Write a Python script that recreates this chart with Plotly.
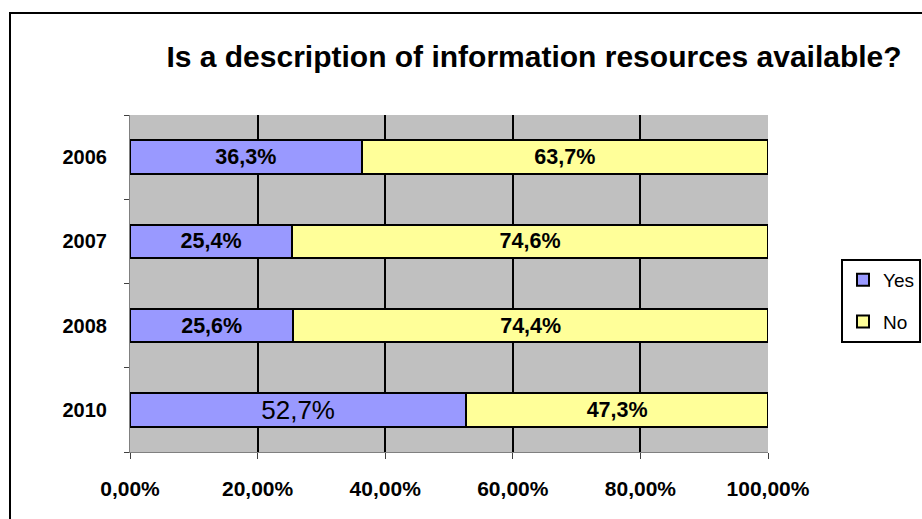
import plotly.graph_objects as go

years = ["2006", "2007", "2008", "2010"]
yes_vals = [36.3, 25.4, 25.6, 52.7]
no_vals = [63.7, 74.6, 74.4, 47.3]
x_ticks = [0, 0.2, 0.4, 0.6, 0.8, 1.0]

FONT = "Arial, 'Liberation Sans', sans-serif"

def fmt(v):
    return f"{v:.1f}".replace(".", ",") + "%"

yes_text = [fmt(v) if y == "2010" else f"<b>{fmt(v)}</b>" for v, y in zip(yes_vals, years)]
yes_sizes = [26 if y == "2010" else 21.5 for y in years]
no_text = [f"<b>{fmt(v)}</b>" for v in no_vals]

fig = go.Figure()
fig.add_trace(go.Bar(
    y=years, x=[v / 100 for v in yes_vals], orientation="h", name="Yes",
    legendgroup="yes",
    marker=dict(color="#9999FF", line=dict(color="black", width=2)),
    text=yes_text, textposition="inside", insidetextanchor="middle",
    textfont=dict(family=FONT, size=yes_sizes, color="black"),
    constraintext="none", hoverinfo="skip",
))
fig.add_trace(go.Bar(
    y=years, x=[v / 100 for v in no_vals], orientation="h", name="No",
    legendgroup="no",
    marker=dict(color="#FFFF99", line=dict(color="black", width=2)),
    text=no_text, textposition="inside", insidetextanchor="middle",
    textfont=dict(family=FONT, size=21.5, color="black"),
    constraintext="none", hoverinfo="skip",
))

L, R, T, B = 130, 154, 115, 67
W, H = 922, 519
pw, ph = W - L - R, H - T - B

def px_x(p):
    return (p - L) / pw

def px_y(p):
    return (H - B - p) / ph

fig.update_layout(
    width=W, height=H,
    margin=dict(l=L, r=R, t=T, b=B, autoexpand=False),
    paper_bgcolor="white", plot_bgcolor="#C0C0C0",
    barmode="stack", bargap=0.6,
    separators=", ",
    font=dict(family=FONT, color="black"),
    title=dict(text="<b>Is a description of information resources available?</b>",
               x=534 / W, xanchor="center", y=1 - 56 / H, yanchor="middle",
               font=dict(size=30, family=FONT, color="black")),
    legend=dict(x=px_x(841), y=px_y(259), xanchor="left", yanchor="top",
                bordercolor="black", borderwidth=2, bgcolor="white",
                traceorder="grouped", tracegroupgap=14,
                font=dict(size=19, family=FONT, color="black")),
    xaxis=dict(range=[0, 1], tickvals=x_ticks, tickformat=".2%",
               showgrid=False,
               minor=dict(tickvals=x_ticks[1:-1], showgrid=True, gridcolor="black",
                          gridwidth=2, ticks=""),
               showline=True, linecolor="#808080", linewidth=1,
               mirror=False,
               ticks="outside", ticklen=6, tickcolor="#404040",
               ticklabelstandoff=12, zeroline=False,
               tickfont=dict(size=21, family=FONT, color="black", weight="bold")),
    yaxis=dict(type="category", categoryorder="array", categoryarray=years[::-1],
               showline=True, linecolor="#808080", linewidth=1,
               ticks="outside", ticklen=5, tickcolor="#404040", tickson="boundaries",
               showgrid=False, ticklabelstandoff=18,
               tickfont=dict(size=20, family=FONT, color="black", weight="bold")),
    shapes=[dict(type="path", xref="paper", yref="paper",
                 path=f"M {px_x(10)},{px_y(540)} L {px_x(10)},{px_y(13)} L {px_x(940)},{px_y(13)}",
                 line=dict(color="black", width=2))],
)

fig.write_html("out.html", config={"displayModeBar": False},
               post_script="document.body.style.margin='0px';")
